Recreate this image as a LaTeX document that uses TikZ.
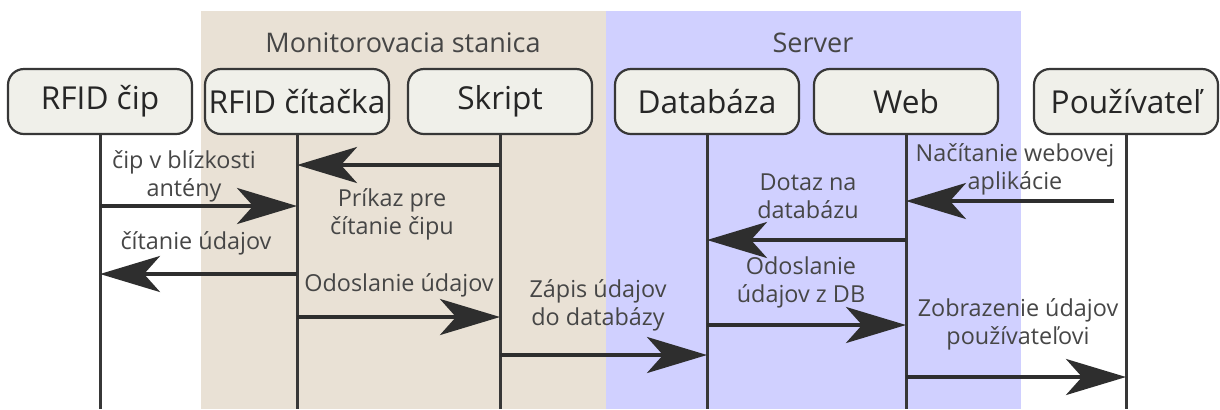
\documentclass[tikz,border=0pt]{standalone}
\usepackage{fontspec}
\setmainfont{Open Sans}
\usepackage{tikz}
\usetikzlibrary{arrows.meta}

\definecolor{stanicabg}{RGB}{233,225,213}
\definecolor{serverbg}{RGB}{208,208,255}
\definecolor{boxfill}{RGB}{240,240,234}
\definecolor{inkline}{RGB}{55,55,55}
\definecolor{inktext}{RGB}{70,70,70}

\begin{document}
\begin{tikzpicture}[x=0.5pt,y=-0.5pt,
  actor/.style={draw=inkline,line width=1.1pt,fill=boxfill,rounded corners=8pt,
    minimum width=92pt,minimum height=32.5pt,inner xsep=1pt,text=black!85,
    font={\fontsize{15.8}{18}\selectfont}},
  life/.style={draw=inkline,line width=1.5pt},
  msg/.style={draw=black!82,line width=2pt,
    -{Stealth[length=30pt,width=18pt,inset=8pt]}},
  lbl/.style={text=inktext,align=center,font={\fontsize{11.7}{14}\selectfont}},
  grp/.style={text=inktext,font={\fontsize{13.5}{16}\selectfont}}]

  \useasboundingbox (0,0) rectangle (1220,409);

  % backgrounds of the two groups
  \fill [stanicabg] (201,11) rectangle (606,409);
  \fill [serverbg] (606,11) rectangle (1021,409);
  \node [grp] (stanica) at (403,43) {Monitorovacia stanica};
  \node [grp] (server) at (813,43) {Server};

  % participants
  \node [actor] (cip) at (100,101.5) {RFID čip};
  \node [actor] (citacka) at (297,101.5) {RFID čítačka};
  \node [actor] (skript) at (500,101.5) {Skript};
  \node [actor] (databaza) at (707,101.5) {Databáza};
  \node [actor] (web) at (906,101.5) {Web};
  \node [actor] (pouzivatel) at (1126,101.5) {Používateľ};

  % lifelines
  \coordinate (dno) at (0,409);
  \foreach \p in {cip,citacka,skript,databaza,web,pouzivatel}
    \draw [life] (\p.south) -- (\p.south |- dno);

  % message levels
  \coordinate (m1) at (0,165);
  \coordinate (m2) at (0,206);
  \coordinate (m3) at (0,274);
  \coordinate (m4) at (0,317);
  \coordinate (m5) at (0,355);
  \coordinate (m6) at (0,201);
  \coordinate (m7) at (0,240);
  \coordinate (m8) at (0,325);
  \coordinate (m9) at (0,377);

  \draw [msg] (skript |- m1) -- (citacka |- m1);
  \node [lbl] (l1) at (392,214) {Príkaz pre\\čítanie čipu};

  \draw [msg] (cip |- m2) -- (citacka |- m2);
  \node [lbl] (l2) at (184,176) {čip v blízkosti\\antény};

  \draw [msg] (citacka |- m3) -- (cip |- m3);
  \node [lbl] (l3) at (196,243) {čítanie údajov};

  \draw [msg] (citacka |- m4) -- (skript |- m4);
  \node [lbl] (l4) at (399,285) {Odoslanie údajov};

  \draw [msg] (skript |- m5) -- (databaza |- m5);
  \node [lbl] (l5) at (598,305) {Zápis údajov\\do databázy};

  \draw [msg,shorten <=6pt] (pouzivatel |- m6) -- (web |- m6);
  \node [lbl] (l6) at (1015,169) {Načítanie webovej\\aplikácie};

  \draw [msg] (web |- m7) -- (databaza |- m7);
  \node [lbl] (l7) at (808,196) {Dotaz na\\databázu};

  \draw [msg] (databaza |- m8) -- (web |- m8);
  \node [lbl] (l8) at (801,282) {Odoslanie\\údajov z DB};

  \draw [msg] (web |- m9) -- (pouzivatel |- m9);
  \node [lbl] (l9) at (1018,324) {Zobrazenie údajov\\používateľovi};

\end{tikzpicture}
\end{document}
